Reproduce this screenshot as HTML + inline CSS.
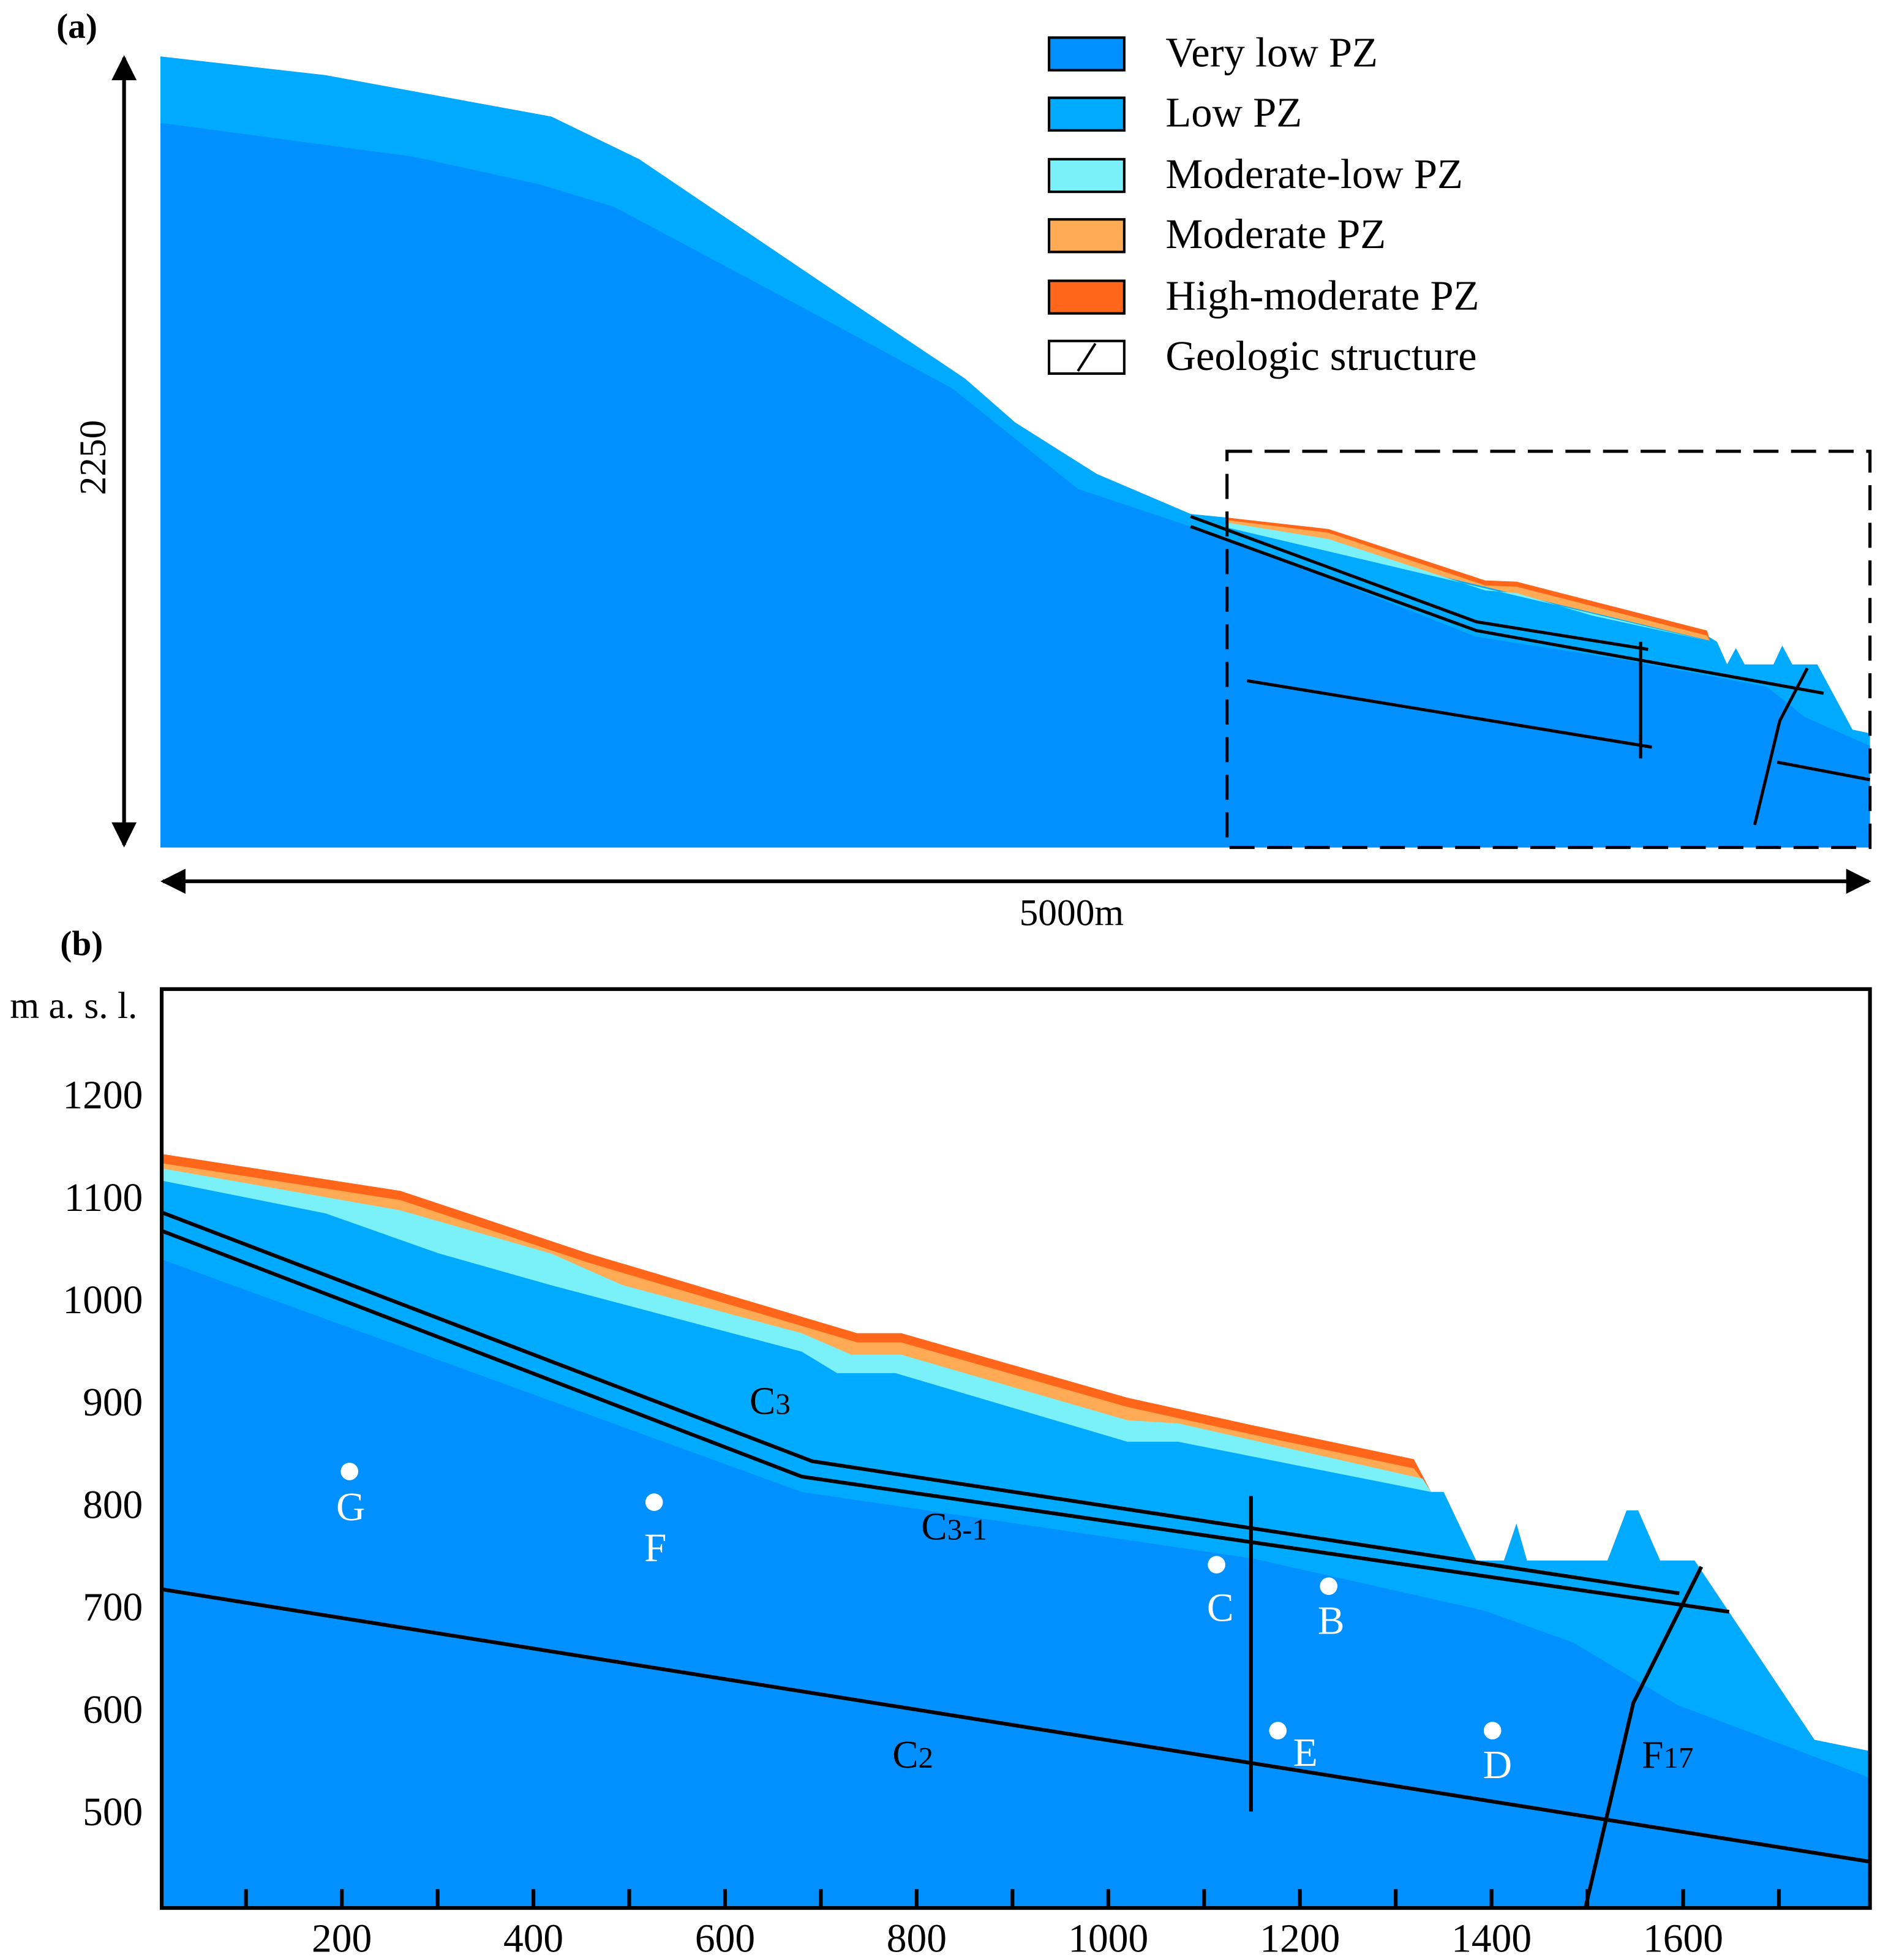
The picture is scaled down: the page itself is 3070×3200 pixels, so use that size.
<!DOCTYPE html>
<html><head><meta charset="utf-8"><style>
html,body{margin:0;padding:0;background:#fff}
svg{display:block;font-family:"Liberation Serif",serif}
</style></head><body>
<svg id="fig" width="3070" height="3200" viewBox="0 0 1500 1563.5" preserveAspectRatio="none" xmlns="http://www.w3.org/2000/svg">
<defs>
<marker id="ah" viewBox="0 0 10 10" refX="9" refY="5" markerWidth="26" markerHeight="20" orient="auto-start-reverse" markerUnits="userSpaceOnUse"><path d="M0,0 L10,5 L0,10 z" fill="#000"/></marker>
</defs>
<!-- Panel (a) -->
<g>
<text x="45" y="30" font-size="28" font-weight="bold">(a)</text>
<polygon fill="#00AAFF" points="128,45 260,60 440,93 510,127 670,235 770,302 810,337 875,378 950,410 980,413 1060,424 1190,466 1210,466 1280,490 1362,507 1370,512 1378,530 1385,517 1392,530 1415,530 1422,515 1430,530 1450,530 1478,582 1492,585 1492,676 128,676"/>
<polygon fill="#FF6619" points="980,413 1060,422 1185,463 1210,464 1362,503 1364,510 980,418"/>
<polygon fill="#FFAA55" points="980,415 1060,425 1185,467 1210,468 1362,507 1364,511 980,419"/>
<polygon fill="#7AF0F8" points="980,417 1060,430 1185,471 1210,473 1270,491 1362,511 980,421"/>
<polygon fill="#0090FF" points="128,98 330,125 430,147 490,165 640,245 760,310 860,390 950,420 980,430 1178,508 1300,527 1410,548 1440,572 1492,595 1492,676 128,676"/>
<g stroke="#000" stroke-width="2.5" fill="none">
<polyline points="950,412 1178,496 1315,518"/>
<polyline points="950,420 1178,503 1455,553"/>
<line x1="995" y1="543" x2="1318" y2="596"/>
<line x1="1309" y1="512" x2="1309" y2="605"/>
<line x1="1418" y1="608" x2="1492" y2="622"/>
<polyline points="1400,658 1420,575 1442,533"/>
</g>
<rect x="979" y="360" width="513" height="316" fill="none" stroke="#000" stroke-width="2.5" stroke-dasharray="20,10"/>
<line x1="99" y1="674" x2="99" y2="46" stroke="#000" stroke-width="3" marker-start="url(#ah)" marker-end="url(#ah)"/>
<text x="0" y="0" font-size="30" text-anchor="middle" transform="translate(84,365) rotate(-90)">2250</text>
<line x1="130" y1="703" x2="1491" y2="703" stroke="#000" stroke-width="3" marker-start="url(#ah)" marker-end="url(#ah)"/>
<text x="855" y="738" font-size="30" text-anchor="middle">5000m</text>
<g font-size="33.5">
<g><rect x="837" y="30" width="60" height="26" fill="#0090FF" stroke="#000" stroke-width="2"/><text x="930" y="53">Very low PZ</text></g>
<g><rect x="837" y="78" width="60" height="26" fill="#00AAFF" stroke="#000" stroke-width="2"/><text x="930" y="101">Low PZ</text></g>
<g><rect x="837" y="127" width="60" height="26" fill="#7AF0F8" stroke="#000" stroke-width="2"/><text x="930" y="150">Moderate-low PZ</text></g>
<g><rect x="837" y="175" width="60" height="26" fill="#FFAA55" stroke="#000" stroke-width="2"/><text x="930" y="198">Moderate PZ</text></g>
<g><rect x="837" y="224" width="60" height="26" fill="#FF6619" stroke="#000" stroke-width="2"/><text x="930" y="247">High-moderate PZ</text></g>
<g><rect x="837" y="272" width="60" height="26" fill="#fff" stroke="#000" stroke-width="2"/><line x1="860" y1="296" x2="874" y2="274" stroke="#000" stroke-width="2"/><text x="930" y="295">Geologic structure</text></g>
</g>
</g>
<!-- Panel (b) -->
<g id="pb">
<text x="48" y="762" font-size="28" font-weight="bold">(b)</text>
<text x="8" y="812" font-size="30">m a. s. l.</text>
</g>
</svg>
<script>
const xTicks = [200,400,600,800,1000,1200,1400,1600];
const xMinorTicks = [100,300,500,700,900,1100,1300,1500,1700];
const yTicks = [500,600,700,800,900,1000,1100,1200];
const highTop = [[12,1142],[261,1106],[457,1045],[738,967],[784,967],[1020,904],[1151,877],[1319,844],[1337,812],[1350,812],[1384,745],[1413,745],[1426,781],[1437,745],[1521,745],[1541,794],[1553,794],[1576,745],[1612,745],[1737,570],[1795,559]];
const moderateTop = [[12,1133],[261,1097],[457,1036],[738,958],[784,958],[1020,895],[1151,868],[1319,835],[1337,812],[1350,812],[1384,745],[1413,745],[1426,781],[1437,745],[1521,745],[1541,794],[1553,794],[1576,745],[1612,745],[1737,570],[1795,559]];
const moderateLowTop = [[12,1128],[261,1087],[418,1045],[493,1014],[680,967],[732,946],[784,946],[1020,882],[1073,879],[1328,825],[1337,812],[1350,812],[1384,745],[1413,745],[1426,781],[1437,745],[1521,745],[1541,794],[1553,794],[1576,745],[1612,745],[1737,570],[1795,559]];
const lowTop = [[12,1116],[183,1084],[301,1045],[418,1014],[680,949],[717,928],[778,928],[1020,861],[1073,861],[1337,812],[1350,812],[1384,745],[1413,745],[1426,781],[1437,745],[1521,745],[1541,794],[1553,794],[1576,745],[1612,745],[1737,570],[1795,559]];
const veryLowTop = [[12,1039],[680,812],[1151,747],[1393,696],[1485,665],[1594,604],[1795,533]];
const lineC3 = [[12,1085],[691,842],[1596,713]];
const lineC31 = [[12,1067],[680,827],[1648,695]];
const lineC2 = [[12,717],[1795,451]];
const lineVert = [[1149,808],[1149,500]];
const lineF17 = [[1498,406],[1548,606],[1619,739]];
const pointNames = ["G","F","C","B","E","D"];
const pointX = [208,526,1113,1230,1177,1401];
const pointY = [832,802,741,720,579,579];

const NS = "http://www.w3.org/2000/svg";
const pb = document.getElementById("pb");
const X0 = 129, X1 = 1492, Y0 = 789, Y1 = 1522;
const xMin = 12, xMax = 1795, eMin = 405.8, eMax = 1303;
function sx(v){ return X0 + (v - xMin) / (xMax - xMin) * (X1 - X0); }
function sy(v){ return Y1 - (v - eMin) / (eMax - eMin) * (Y1 - Y0); }
function mk(tag, attrs){ const e = document.createElementNS(NS, tag); for (const k in attrs) e.setAttribute(k, attrs[k]); pb.appendChild(e); return e; }
function layer(arr, color, name){
  const pts = arr.map(p => sx(p[0]) + "," + sy(p[1]));
  pts.push(sx(xMax) + "," + Y1, sx(xMin) + "," + Y1);
  const e = mk("polygon", {points: pts.join(" "), fill: color});
  
  
}
layer(highTop, "#FF6619", "high-moderate-layer");
layer(moderateTop, "#FFAA55", "moderate-layer");
layer(moderateLowTop, "#7AF0F8", "moderate-low-layer");
layer(lowTop, "#00AAFF", "low-layer");
layer(veryLowTop, "#0090FF", "very-low-layer");
function line(arr, name){
  const e = mk("polyline", {points: arr.map(p => sx(p[0]) + "," + sy(p[1])).join(" "), fill: "none", stroke: "#000", "stroke-width": 3});
  
  
}
line(lineC3, "fault-line-c3");
line(lineC31, "fault-line-c3-1");
line(lineC2, "fault-line-c2");
line(lineVert, "vertical-structure-line");
line(lineF17, "fault-line-f17");
const lblOff = [[1,39],[1,47],[3,45],[2,38],[22,28],[4,38]];
pointNames.forEach((n, i) => {
  const c = mk("circle", {cx: sx(pointX[i]), cy: sy(pointY[i]), r: 7, fill: "#fff"});
  
  
  const t = mk("text", {x: sx(pointX[i]) + lblOff[i][0], y: sy(pointY[i]) + lblOff[i][1], "font-size": 32, fill: "#fff", "text-anchor": "middle"});
  t.textContent = n;
  
  
});
function sublabel(x, y, main, sub, name){
  const t = mk("text", {x: x, y: y, "font-size": 31});
  
  
  const a = document.createElementNS(NS, "tspan"); a.textContent = main; t.appendChild(a);
  const b = document.createElementNS(NS, "tspan"); b.setAttribute("font-size", "24"); b.textContent = sub; t.appendChild(b);
}
sublabel(598, 1128, "C", "3", "label-c3");
sublabel(735, 1228, "C", "3-1", "label-c3-1");
sublabel(712, 1410, "C", "2", "label-c2");
sublabel(1310, 1410, "F", "17", "label-f17");
const fr = mk("rect", {x: X0, y: Y0, width: X1 - X0, height: Y1 - Y0, fill: "none", stroke: "#000", "stroke-width": 3});


xTicks.concat(xMinorTicks).forEach(v => {
  const l = mk("line", {x1: sx(v), x2: sx(v), y1: Y1, y2: Y1 - 15, stroke: "#000", "stroke-width": 3});
  
  
});
xTicks.forEach(v => {
  const t = mk("text", {x: sx(v), y: 1557, "font-size": 32, "text-anchor": "middle"});
  t.textContent = v;
  
  
});
yTicks.forEach(v => {
  const t = mk("text", {x: 114, y: sy(v) + 11, "font-size": 32, "text-anchor": "end"});
  t.textContent = v;
  
  
});
</script>
</body></html>
